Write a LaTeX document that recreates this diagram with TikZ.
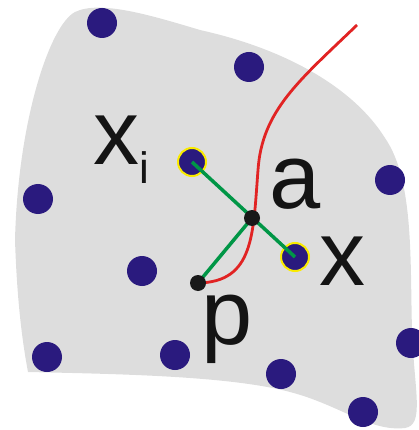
\documentclass[tikz,border=0pt]{standalone}
\usepackage{fontspec}
\setmainfont{Liberation Sans}
\usepackage{xcolor}
\usetikzlibrary{positioning}
\definecolor{siteblue}{RGB}{42,26,126}
\definecolor{regiongray}{RGB}{221,221,221}
\definecolor{linegreen}{RGB}{0,150,70}
\definecolor{curvered}{RGB}{225,35,35}
\definecolor{ringyellow}{RGB}{250,235,0}
\tikzset{
  site/.style={circle, fill=siteblue, minimum size=30pt, inner sep=0pt},
  chosen/.style={site, draw=ringyellow, line width=2pt, minimum size=28pt},
  pt/.style={circle, fill=black!90, minimum size=16pt, inner sep=0pt},
  lbl/.style={font=\fontsize{92}{92}\selectfont, text=black!92, inner sep=0pt, anchor=base west},
}

\begin{document}
\begin{tikzpicture}[x=1pt,y=-1pt]
		\useasboundingbox (0,0) rectangle (419,430);
		% region
		\fill[regiongray] (28,372) .. controls (120,374) and (230,376) .. (290,392)
			.. controls (340,405) and (370,432) .. (405,428)
			.. controls (425,425) and (414,390) .. (412,330)
			.. controls (410,260) and (414,180) .. (385,138)
			.. controls (355,90) and (290,50) .. (200,30)
			.. controls (150,15) and (100,0) .. (75,12)
			.. controls (50,25) and (18,120) .. (15,240)
			.. controls (17,300) and (22,340) .. (28,372) -- cycle;
		% sites
		\foreach \n/\px/\py in {1/102/23, 2/249/67, 3/38/199, 4/142/271, 5/390/180,
			6/47/357, 7/175/355, 8/281/374, 9/411/343, 10/363/412}
			\node[site] (s\n) at (\px,\py) {};
		\node[chosen] (xi) at (192,162) {};
		\node[chosen] (x) at (295,257) {};
		\coordinate (a) at (252,218);
		\coordinate (p) at (198,283);
		\coordinate (top) at (357,25);
		% segments
		\draw[linegreen, line width=3.5pt] (xi.center) -- (x.center);
		\draw[linegreen, line width=3.5pt] (a) -- (p);
		\draw[curvered, line width=2.8pt] (top) .. controls (300,80) and (262,110) .. (258,170)
			.. controls (253,235) and (254,282) .. (p);
		\node[pt] (na) at (a) {};
		\node[pt] (np) at (p) {};
		% labels
		\node[lbl] (lxi) at (93,165) {x\raisebox{-18pt}{\fontsize{44}{44}\selectfont i}};
		\node[lbl] (la) at (269,208) {a};
		\node[lbl] (lx) at (319,285) {x};
		\node[lbl] (lp) at (201,344) {p};
	\end{tikzpicture}
\end{document}
